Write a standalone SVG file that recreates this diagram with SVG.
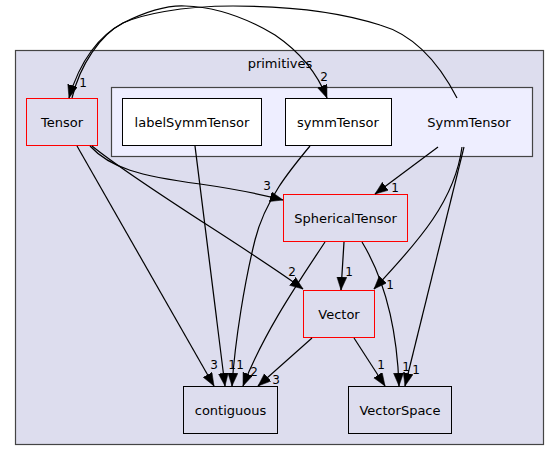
<svg xmlns="http://www.w3.org/2000/svg" width="560" height="461" viewBox="0 0 560 461">
<style>
text{font-family:"DejaVu Sans",sans-serif;font-size:13px;fill:#000}
.lbl{font-size:12px;text-anchor:middle}
.nt{text-anchor:middle}
.edge{fill:none;stroke:#000;stroke-width:1.2;marker-end:url(#ah)}
.red{fill:#ddddee;stroke:#ff0000}
.plain{fill:#ddddee;stroke:#000}
.white{fill:#ffffff;stroke:#000}
</style>
<defs>
<marker id="ah" markerUnits="userSpaceOnUse" markerWidth="14" markerHeight="11" refX="13" refY="5" orient="auto">
<path d="M0,0 L13,5 L0,10 z" fill="#000" stroke="#000" stroke-width="0.5"/>
</marker>
</defs>
<rect width="560" height="461" fill="#fff"/>
<g id="cluster_primitives">
<rect x="15.5" y="50.5" width="528" height="394" fill="#ddddee" stroke="#444" stroke-width="1.2"/>
<text x="280" y="68" class="nt">primitives</text>
</g>
<g id="cluster_SymmTensor">
<rect x="111.5" y="87.5" width="421" height="69" fill="#eeeeff" stroke="#444" stroke-width="1.2"/>
<text x="469" y="126.5" class="nt">SymmTensor</text>
</g>
<g id="node_Tensor">
<rect x="26.5" y="98.5" width="71" height="47" class="red"/>
<text x="62" y="126.5" class="nt">Tensor</text>
</g>
<g id="node_labelSymmTensor">
<rect x="122.5" y="98.5" width="139" height="47" class="white"/>
<text x="192" y="126.5" class="nt">labelSymmTensor</text>
</g>
<g id="node_symmTensor">
<rect x="285.5" y="98.5" width="106" height="47" class="white"/>
<text x="338" y="126.5" class="nt">symmTensor</text>
</g>
<g id="node_SphericalTensor">
<rect x="283.5" y="194.5" width="124" height="47" class="red"/>
<text x="345.5" y="222.5" class="nt">SphericalTensor</text>
</g>
<g id="node_Vector">
<rect x="303.5" y="290.5" width="71" height="47" class="red"/>
<text x="339" y="318.5" class="nt">Vector</text>
</g>
<g id="node_contiguous">
<rect x="183.5" y="386.5" width="94" height="47" class="plain"/>
<text x="230.5" y="414.5" class="nt">contiguous</text>
</g>
<g id="node_VectorSpace">
<rect x="348.5" y="386.5" width="103" height="47" class="plain"/>
<text x="400" y="414.5" class="nt">VectorSpace</text>
</g>
<g id="edges">
<path class="edge" d="M457,98 C440,65 415,35 380,25 C340,12 290,6 233,6 C180,6 140,15 123,23 C100,35 80,60 69,98"/>
<path class="edge" d="M72,98 C80,65 100,35 123,23 C145,12 165,5 185,6 C220,7 250,20 275,35 C300,52 318,75 327,98"/>
<path class="edge" d="M90,146 C110,168 140,176 200,184 C235,189 260,194 283,200"/>
<path class="edge" d="M92,146 C140,185 250,250 303,289"/>
<path class="edge" d="M77,146 L214,386"/>
<path class="edge" d="M195,146 L225,386"/>
<path class="edge" d="M310,146 C290,170 265,200 255,240 C245,280 235,340 232,386"/>
<path class="edge" d="M325,242 C300,280 265,330 243,386"/>
<path class="edge" d="M312,338 L258,386"/>
<path class="edge" d="M344,242 L341,290"/>
<path class="edge" d="M362,242 C385,280 397,330 399,386"/>
<path class="edge" d="M438,147 L375,194"/>
<path class="edge" d="M462,147 C455,200 420,240 374,289"/>
<path class="edge" d="M464,147 L405,386"/>
<path class="edge" d="M354,338 L385,386"/>
<text class="lbl" x="83" y="87">1</text>
<text class="lbl" x="324" y="81">2</text>
<text class="lbl" x="267" y="190">3</text>
<text class="lbl" x="395" y="192">1</text>
<text class="lbl" x="292" y="276">2</text>
<text class="lbl" x="349" y="276">1</text>
<text class="lbl" x="390" y="289">1</text>
<text class="lbl" x="214" y="369">3</text>
<text class="lbl" x="232" y="369">1</text>
<text class="lbl" x="240" y="369">1</text>
<text class="lbl" x="254" y="376">2</text>
<text class="lbl" x="276" y="384">3</text>
<text class="lbl" x="381" y="369">1</text>
<text class="lbl" x="406" y="371">1</text>
<text class="lbl" x="416" y="374">1</text>
</g>
</svg>
